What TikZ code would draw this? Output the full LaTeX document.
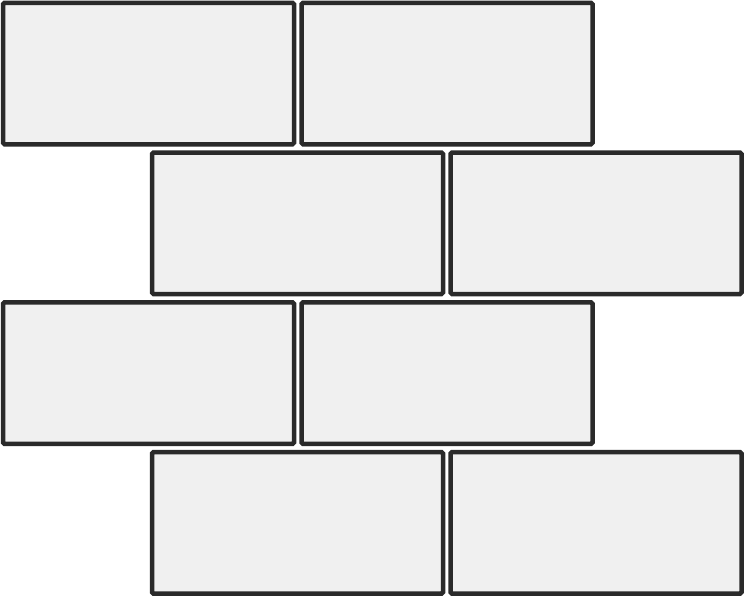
\documentclass[tikz,border=0pt]{standalone}
\usepackage{xcolor}
\usepackage{tikz}
\definecolor{BrickFill}{HTML}{F0F0F0}
\definecolor{BrickLine}{HTML}{2A2A2A}

\begin{document}
\begin{tikzpicture}[x=1pt, y=-1pt,
  brick/.style={draw=BrickLine, fill=BrickFill, line width=4.5pt,
    rounded corners=1.5pt, minimum width=291pt, minimum height=141.5pt,
    inner sep=0pt, outer sep=0pt}]
  % canvas
  \useasboundingbox (0,0) rectangle (745,597);

  % rows of bricks, every other row shifted by half a brick
  \foreach \r in {0,...,3}{
    \pgfmathsetmacro{\shift}{mod(\r,2)*149}
    \foreach \c in {0,1}{
      \node[brick] (brick-\r-\c) at ({148.5+\shift+\c*298.5}, {73.5+\r*149.8}) {};
    }
  }
\end{tikzpicture}
\end{document}
